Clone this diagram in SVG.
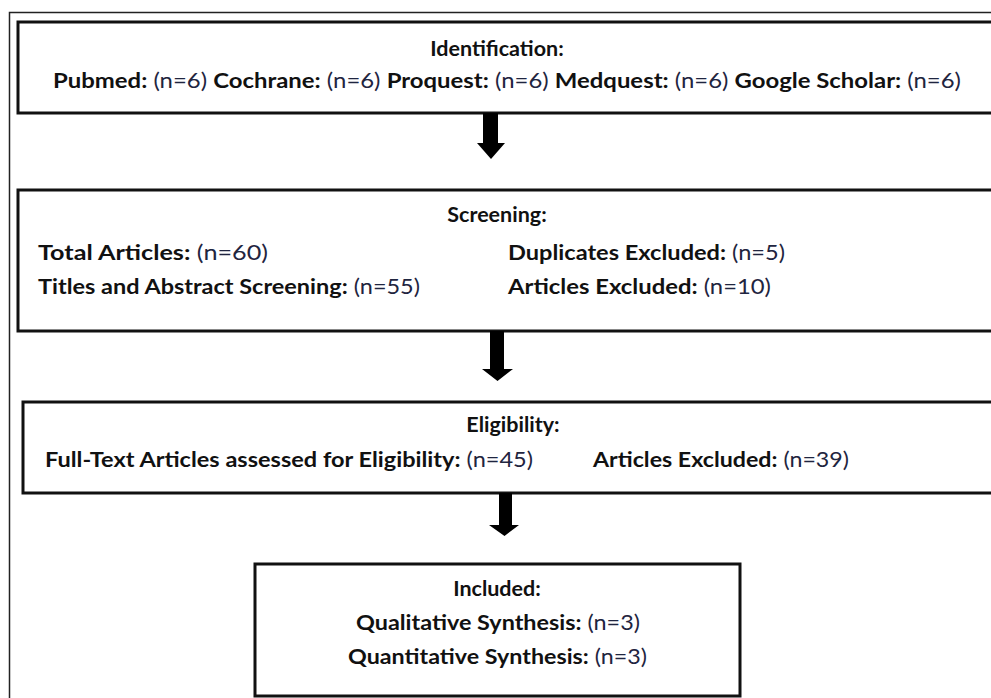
<svg xmlns="http://www.w3.org/2000/svg" width="991" height="698" viewBox="0 0 991 698">
<style>
.box{fill:#fff;stroke:#111;stroke-width:3}
.frame{fill:none;stroke:#222;stroke-width:1.5}
text{font-family:Lato,"Open Sans","Liberation Sans",sans-serif;font-size:21.5px;fill:#1c1c24}
.b{font-weight:bold;fill:#111}
.n{fill:#1f2540}
.arrow{fill:#000}
</style>
<rect width="991" height="698" fill="#fff"/>
<path class="frame" d="M1000 12.5 H9.5 V710"/>
<g id="identification">
<rect class="box" x="18" y="22" width="990" height="91"/>
<text x="497" y="56" text-anchor="middle" class="b">Identification:</text>
<text x="53" y="88" textLength="908" lengthAdjust="spacingAndGlyphs"><tspan class="b">Pubmed:</tspan><tspan class="n"> (n=6) </tspan><tspan class="b">Cochrane:</tspan><tspan class="n"> (n=6) </tspan><tspan class="b">Proquest:</tspan><tspan class="n"> (n=6) </tspan><tspan class="b">Medquest:</tspan><tspan class="n"> (n=6) </tspan><tspan class="b">Google Scholar:</tspan><tspan class="n"> (n=6)</tspan></text>
</g>
<g id="screening">
<rect class="box" x="18" y="190" width="990" height="141"/>
<text x="497" y="222" text-anchor="middle" class="b">Screening:</text>
<text x="38" y="260" textLength="230" lengthAdjust="spacingAndGlyphs"><tspan class="b">Total Articles:</tspan><tspan class="n"> (n=60)</tspan></text>
<text x="38" y="294" textLength="382" lengthAdjust="spacingAndGlyphs"><tspan class="b">Titles and Abstract Screening:</tspan><tspan class="n"> (n=55)</tspan></text>
<text x="508" y="260" textLength="277" lengthAdjust="spacingAndGlyphs"><tspan class="b">Duplicates Excluded:</tspan><tspan class="n"> (n=5)</tspan></text>
<text x="508" y="294" textLength="263" lengthAdjust="spacingAndGlyphs"><tspan class="b">Articles Excluded:</tspan><tspan class="n"> (n=10)</tspan></text>
</g>
<g id="eligibility">
<rect class="box" x="23" y="402" width="990" height="91"/>
<text x="513" y="432" text-anchor="middle" class="b">Eligibility:</text>
<text x="45" y="467" textLength="488" lengthAdjust="spacingAndGlyphs"><tspan class="b">Full-Text Articles assessed for Eligibility:</tspan><tspan class="n"> (n=45)</tspan></text>
<text x="593" y="467" textLength="256" lengthAdjust="spacingAndGlyphs"><tspan class="b">Articles Excluded:</tspan><tspan class="n"> (n=39)</tspan></text>
</g>
<g id="included">
<rect class="box" x="255" y="564" width="485" height="132"/>
<text x="497" y="596" text-anchor="middle" class="b">Included:</text>
<text x="356" y="630" textLength="284" lengthAdjust="spacingAndGlyphs"><tspan class="b">Qualitative Synthesis:</tspan><tspan class="n"> (n=3)</tspan></text>
<text x="348" y="664" textLength="299" lengthAdjust="spacingAndGlyphs"><tspan class="b">Quantitative Synthesis:</tspan><tspan class="n"> (n=3)</tspan></text>
</g>
<g id="connectors">
<polygon class="arrow" points="483,113 498,113 498,143 505,143 491,159 477,143 483,143"/>
<polygon class="arrow" points="490,331 504,331 504,369 513,369 497.5,381 482,369 490,369"/>
<polygon class="arrow" points="499,493 512,493 512,525 519,525 504.5,536 489,525 499,525"/>
</g>
</svg>
